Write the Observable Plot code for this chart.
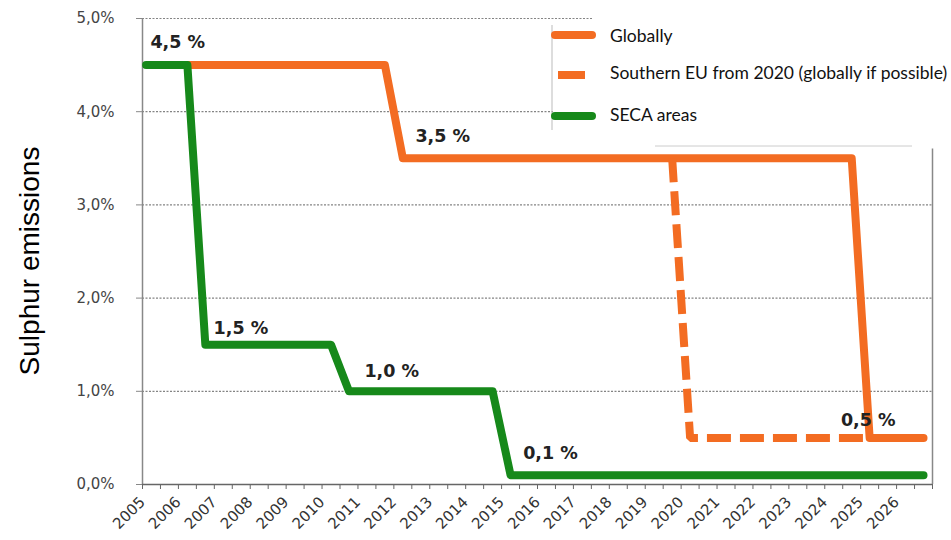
<!DOCTYPE html>
<html>
<head>
<meta charset="utf-8">
<script src="https://cdn.jsdelivr.net/npm/d3@7"></script>
<script src="https://cdn.jsdelivr.net/npm/@observablehq/plot@0.6"></script>
<style>
  html, body { margin: 0; padding: 0; background: #fff; }
  #chart { position: relative; width: 951px; height: 540px; }
</style>
</head>
<body>
<div id="chart"></div>
<script>
// ---- data ----
const secaYears = [2005.1, 2006.25, 2006.75, 2010.25, 2010.75, 2014.75, 2015.25, 2026.75];
const secaValues = [4.5, 4.5, 1.5, 1.5, 1.0, 1.0, 0.1, 0.1];

const globalYears = [2006.2, 2011.75, 2012.25, 2024.75, 2025.25, 2026.75];
const globalValues = [4.5, 4.5, 3.5, 3.5, 0.5, 0.5];

const southYears = [2019.75, 2020.25, 2025.2];
const southValues = [3.5, 0.5, 0.5];

const labelTexts = ["4,5 %", "3,5 %", "1,5 %", "1,0 %", "0,1 %", "0,5 %"];
const labelYears = [2005.22, 2012.6, 2006.98, 2011.18, 2015.6, 2024.45];
const labelValues = [4.68, 3.67, 1.62, 1.15, 0.27, 0.63];

const yearTicks = d3.range(2005, 2027);
const minorTicks = d3.range(2005, 2027.01, 0.5);
const yTicks = [0, 1, 2, 3, 4, 5];

const legendNames = ["Globally", "Southern EU from 2020 (globally if possible)", "SECA areas"];

const ORANGE = "#f36c22";
const GREEN = "#16891a";

const toPts = (xs, ys) => xs.map((x, i) => ({x, y: ys[i]}));
const seca = toPts(secaYears, secaValues);
const globalLine = toPts(globalYears, globalValues);
const south = toPts(southYears, southValues);
const labels = labelTexts.map((t, i) => ({t, x: labelYears[i], y: labelValues[i]}));

const fmtY = v => v.toFixed(1).replace(".", ",") + "%";

const plot = Plot.plot({
  width: 951,
  height: 540,
  marginLeft: 142,
  marginRight: 19,
  marginTop: 18,
  marginBottom: 56,
  style: {background: "#fff", fontFamily: "DejaVu Sans", fontSize: "15px", color: "#333"},
  x: {domain: [2005, 2027], label: null},
  y: {domain: [0, 5], label: null},
  marks: [
    Plot.gridY(yTicks.filter(d => d > 0), {stroke: "#777", strokeOpacity: 0.9, strokeDasharray: "2,1.5", strokeWidth: 1.2}),
    Plot.ruleX([2005], {stroke: "#888", strokeWidth: 1.5}),
    Plot.ruleX([2027], {y1: 0, y2: 3.6, stroke: "#888", strokeWidth: 1.5}),
    Plot.axisY({ticks: yTicks, tickFormat: fmtY, tickSize: 6, tickPadding: 22, stroke: "#888", fontSize: 15, fill: "#444", label: null}),
    Plot.axisX({ticks: minorTicks, tickSize: 5, text: null, stroke: "#666", label: null}),
    Plot.axisX({ticks: yearTicks, tickFormat: d => String(d), tickSize: 0, tickRotate: -45, tickPadding: 15, fontSize: 15, fill: "#333", label: null}),
    Plot.ruleY([0], {stroke: "#666", strokeWidth: 1.5}),
    Plot.line(globalLine, {x: "x", y: "y", stroke: ORANGE, strokeWidth: 8, strokeLinejoin: "round", strokeLinecap: "round"}),
    Plot.line(south, {x: "x", y: "y", stroke: ORANGE, strokeWidth: 8, strokeDasharray: "24,9", strokeLinejoin: "miter", strokeLinecap: "butt"}),
    Plot.line(seca, {x: "x", y: "y", stroke: GREEN, strokeWidth: 8, strokeLinejoin: "round", strokeLinecap: "round"}),
    Plot.text(labels, {x: "x", y: "y", text: "t", textAnchor: "start", lineAnchor: "bottom", fontSize: 17.5, fontWeight: "bold", fill: "#222", fontFamily: "DejaVu Sans"})
  ]
});

document.getElementById("chart").appendChild(plot);

// ---- legend box (drawn over the top-right of the plot) ----
const svg = d3.select(plot);
const lg = svg.append("g").attr("text-anchor", "start");
lg.append("rect").attr("x", 592).attr("y", 10).attr("width", 360).attr("height", 13).attr("fill", "#fff");
lg.append("rect").attr("x", 553).attr("y", 22).attr("width", 400).attr("height", 123).attr("fill", "#fff");
lg.append("line").attr("x1", 552).attr("x2", 552).attr("y1", 25).attr("y2", 130).attr("stroke", "#bbb").attr("stroke-width", 1);
lg.append("line").attr("x1", 655).attr("x2", 912).attr("y1", 146).attr("y2", 146).attr("stroke", "#ccc").attr("stroke-width", 1);

const items = [
  {y: 35, x1: 555, x2: 592, color: ORANGE, cap: "round", ty: 42},
  {y: 75, x1: 558, x2: 585, color: ORANGE, cap: "butt", ty: 79},
  {y: 116, x1: 555, x2: 592, color: GREEN, cap: "round", ty: 121}
];
items.forEach((it, i) => {
  lg.append("line").attr("x1", it.x1).attr("x2", it.x2).attr("y1", it.y).attr("y2", it.y)
    .attr("stroke", it.color).attr("stroke-width", 8).attr("stroke-linecap", it.cap);
  lg.append("text").attr("x", 610).attr("y", it.ty).text(legendNames[i])
    .attr("text-anchor", "start")
    .attr("font-family", "Lato").attr("font-size", 17.5).attr("fill", "#111");
});

// y-axis title
svg.append("text")
  .attr("transform", "translate(39,261) rotate(-90)")
  .attr("text-anchor", "middle")
  .attr("font-family", "Liberation Sans")
  .attr("font-size", 28)
  .attr("fill", "#000")
  .text("Sulphur emissions");
</script>
</body>
</html>
